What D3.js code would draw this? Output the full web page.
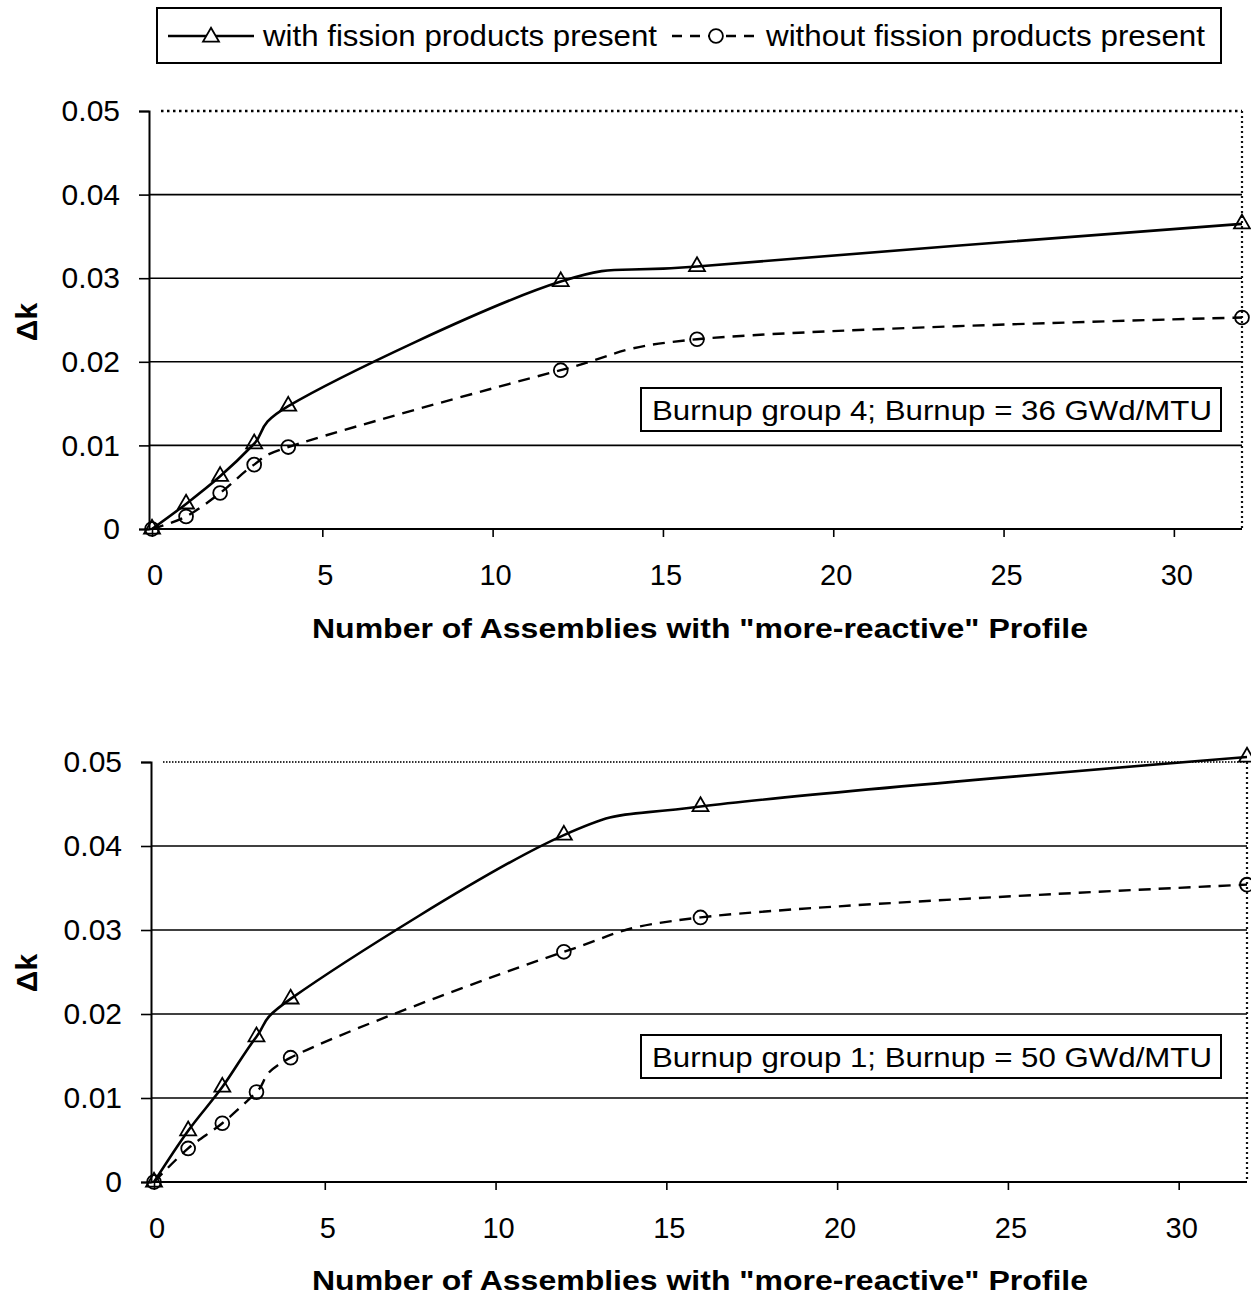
<!DOCTYPE html>
<html>
<head>
<meta charset="utf-8">
<script src="https://cdn.jsdelivr.net/npm/d3@7"></script>
<style>
  html, body { margin: 0; padding: 0; background: #fff; }
  svg { display: block; }
  text { font-family: "Liberation Sans", Arial, Helvetica, sans-serif; fill: #000; }
</style>
</head>
<body>
<svg id="chart" width="1251" height="1299"></svg>
<script>
// ---- data ----
const assemblies = [0, 1, 2, 3, 4, 12, 16, 32];
const group4With    = [0, 0.0030, 0.0063, 0.0102, 0.0147, 0.0296, 0.0314, 0.0365];
const group4Without = [0, 0.0015, 0.0043, 0.0077, 0.0098, 0.0190, 0.0227, 0.0253];
const group1With    = [0, 0.0061, 0.0113, 0.0173, 0.0218, 0.0413, 0.0447, 0.0506];
const group1Without = [0, 0.0040, 0.0070, 0.0107, 0.0148, 0.0274, 0.0315, 0.0354];
const xTicks = [0, 5, 10, 15, 20, 25, 30];
const yTicks = [0, 0.01, 0.02, 0.03, 0.04, 0.05];
const seriesNames = ["with fission products present", "without fission products present"];
const panelLabels = ["Burnup group 4; Burnup = 36 GWd/MTU", "Burnup group 1; Burnup = 50 GWd/MTU"];
const xTitle = 'Number of Assemblies with "more-reactive" Profile';
const yTitle = "\u0394k";

const svg = d3.select("#chart");

// ---- legend ----
const lg = svg.append("g");
lg.append("rect").attr("x", 157).attr("y", 8).attr("width", 1064).attr("height", 55)
  .attr("fill", "none").attr("stroke", "#000").attr("stroke-width", 2);
lg.append("line").attr("x1", 168).attr("x2", 254).attr("y1", 36).attr("y2", 36)
  .attr("stroke", "#000").attr("stroke-width", 2.5);
const triPath = d3.symbol().type(d3.symbolTriangle).size(110);
const circPath = d3.symbol().type(d3.symbolCircle).size(150);
lg.append("path").attr("d", triPath).attr("transform", "translate(211,37)")
  .attr("fill", "#fff").attr("stroke", "#000").attr("stroke-width", 1.8);
lg.append("text").attr("x", 263).attr("y", 46).attr("font-size", 30)
  .attr("textLength", 394).attr("lengthAdjust", "spacingAndGlyphs").text(seriesNames[0]);
lg.append("line").attr("x1", 672).attr("x2", 760).attr("y1", 36).attr("y2", 36)
  .attr("stroke", "#000").attr("stroke-width", 2.5).attr("stroke-dasharray", "10,8");
lg.append("path").attr("d", circPath).attr("transform", "translate(716,36)")
  .attr("fill", "#fff").attr("stroke", "#000").attr("stroke-width", 1.8);
lg.append("text").attr("x", 766).attr("y", 46).attr("font-size", 30)
  .attr("textLength", 439).attr("lengthAdjust", "spacingAndGlyphs").text(seriesNames[1]);

// ---- panels ----
const panels = [
  { withV: group4With, withoutV: group4Without, label: panelLabels[0],
    x0: 152, x1: 1242, y0: 529, y1: 111, boxY: 388, titleY: 638, ytitleY: 322,
    topDash: "2.5,3.5", topW: 2.4, topColor: "#000" },
  { withV: group1With, withoutV: group1Without, label: panelLabels[1],
    x0: 154, x1: 1247, y0: 1182, y1: 762, boxY: 1035, titleY: 1290, ytitleY: 973,
    topDash: "1.5,1.5", topW: 1.8, topColor: "#333" }
];

panels.forEach(p => {
  const g = svg.append("g");
  const x = d3.scaleLinear().domain([0, 32]).range([p.x0, p.x1]);
  const y = d3.scaleLinear().domain([0, 0.05]).range([p.y0, p.y1]);
  const axX = p.x0 - 3;

  // gridlines
  g.selectAll("line.grid").data(yTicks.filter(t => t > 0 && t < 0.05)).enter().append("line")
    .attr("x1", axX).attr("x2", x(32)).attr("y1", d => y(d)).attr("y2", d => y(d))
    .attr("stroke", "#000").attr("stroke-width", 1.6);
  // top border dotted
  g.append("line").attr("x1", axX + 12).attr("x2", x(32)).attr("y1", y(0.05)).attr("y2", y(0.05))
    .attr("stroke", p.topColor).attr("stroke-width", p.topW).attr("stroke-dasharray", p.topDash);
  // right border dotted
  g.append("line").attr("x1", x(32)).attr("x2", x(32)).attr("y1", y(0.05)).attr("y2", y(0))
    .attr("stroke", "#111").attr("stroke-width", 2.2).attr("stroke-dasharray", "2,3");

  // y axis
  const yAxis = d3.axisLeft(y).tickValues(yTicks).tickSize(10).tickPadding(19)
    .tickFormat(d => d === 0 ? "0" : d.toFixed(2));
  const ya = g.append("g").attr("transform", `translate(${axX},0)`).call(yAxis);
  ya.select(".domain").attr("stroke", "#000").attr("stroke-width", 2);
  ya.selectAll(".tick line").attr("stroke", "#000").attr("stroke-width", 1.6);
  ya.selectAll(".tick text").attr("font-size", 30).attr("fill", "#000")
    .attr("font-family", '"Liberation Sans", Arial, sans-serif');

  // x axis
  const xAxis = d3.axisBottom(x).tickValues(xTicks).tickSize(8).tickFormat("");
  const xa = g.append("g").attr("transform", `translate(0,${p.y0})`).call(xAxis);
  xa.select(".domain").attr("stroke", "#000").attr("stroke-width", 2)
    .attr("d", `M${axX},0H${x(32)}`);
  xa.selectAll(".tick line").attr("stroke", "#000").attr("stroke-width", 1.6);
  g.selectAll("text.xt").data(xTicks).enter().append("text")
    .attr("x", d => x(d) + 3).attr("y", p.y0 + 56).attr("text-anchor", "middle")
    .attr("font-size", 29).text(d => d);

  // titles
  g.append("text").attr("x", 700).attr("y", p.titleY).attr("text-anchor", "middle")
    .attr("font-size", 27).attr("font-weight", "bold")
    .attr("textLength", 776).attr("lengthAdjust", "spacingAndGlyphs").text(xTitle);
  g.append("text").attr("transform", `translate(37,${p.ytitleY}) rotate(-90)`)
    .attr("text-anchor", "middle").attr("font-size", 30).attr("font-weight", "bold").text(yTitle);

  // series lines
  const line = d3.line().x((d, i) => x(assemblies[i])).y(d => y(d)).curve(d3.curveCatmullRom.alpha(0.2));
  g.append("path").datum(p.withoutV).attr("d", line).attr("fill", "none")
    .attr("stroke", "#000").attr("stroke-width", 2.4).attr("stroke-dasharray", "12,8");
  g.append("path").datum(p.withV).attr("d", line).attr("fill", "none")
    .attr("stroke", "#000").attr("stroke-width", 2.6);

  // markers
  g.selectAll("path.circ").data(p.withoutV).enter().append("path")
    .attr("d", circPath).attr("transform", (d, i) => `translate(${x(assemblies[i])},${y(d)})`)
    .attr("fill", "none").attr("stroke", "#000").attr("stroke-width", 1.8);
  g.selectAll("path.tri").data(p.withV).enter().append("path")
    .attr("d", triPath).attr("transform", (d, i) => `translate(${x(assemblies[i])},${y(d)})`)
    .attr("fill", "none").attr("stroke", "#000").attr("stroke-width", 1.8);

  // annotation box
  g.append("rect").attr("x", 641).attr("y", p.boxY).attr("width", 580).attr("height", 43)
    .attr("fill", "#fff").attr("stroke", "#000").attr("stroke-width", 2);
  g.append("text").attr("x", 652).attr("y", p.boxY + 32).attr("font-size", 28)
    .attr("textLength", 560).attr("lengthAdjust", "spacingAndGlyphs").text(p.label);
});
</script>
</body>
</html>
